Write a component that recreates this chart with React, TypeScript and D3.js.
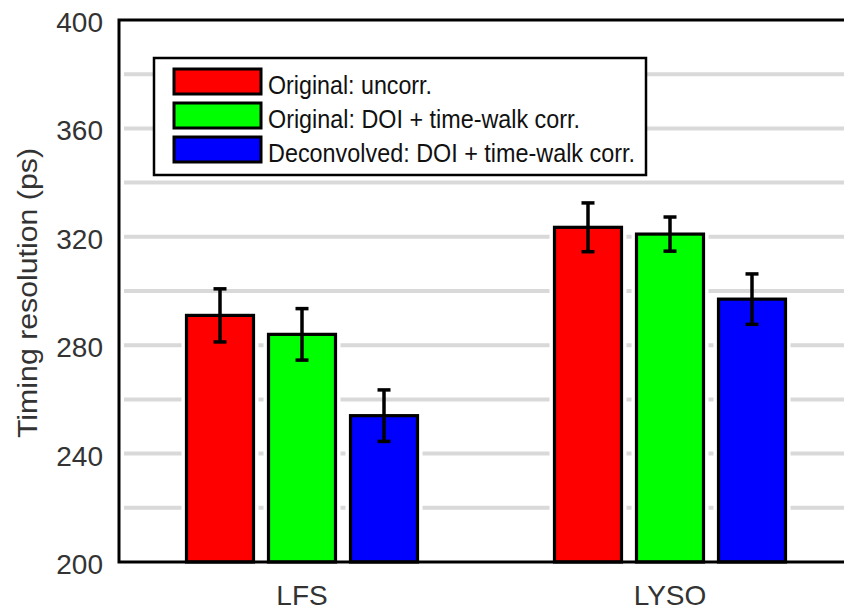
import React from "react";
import * as d3 from "d3";

const categories = ["LFS", "LYSO"];
const seriesNames = [
  "Original: uncorr.",
  "Original: DOI + time-walk corr.",
  "Deconvolved: DOI + time-walk corr.",
];
const seriesColors = ["#ff0000", "#00ff00", "#0000ff"];
// values[series][category]
const origUncorr = [291, 323.5];
const origCorr = [284, 321];
const deconvCorr = [254, 297];
const errOrigUncorr = [9.8, 9];
const errOrigCorr = [9.5, 6.3];
const errDeconvCorr = [9.5, 9.3];
const yTicks = [200, 240, 280, 320, 360, 400];
const gridValues = [220, 240, 260, 280, 300, 320, 340, 360, 380];

const values = [origUncorr, origCorr, deconvCorr];
const errors = [errOrigUncorr, errOrigCorr, errDeconvCorr];
const legendTextWidths = [164, 312, 367];

export default function App() {
  const W = 844;
  const H = 614;
  const left = 119;
  const top = 20;
  const bottom = 562;
  const right = 900;

  const y = d3.scaleLinear().domain([200, 400]).range([bottom, top]);
  const xg = d3.scalePoint<string>().domain(categories).range([302, 670]);
  const xs = d3
    .scaleBand<number>()
    .domain([0, 1, 2])
    .range([-115.5, 115.5])
    .paddingInner(0.183)
    .paddingOuter(0);
  const bw = xs.bandwidth();
  const font = "'Liberation Sans', Arial, Helvetica, sans-serif";

  return (
    <svg
      width={W}
      height={H}
      style={{ position: "absolute", left: 0, top: 0, background: "#fff" }}
      fontFamily={font}
    >
      {gridValues.map((g) => (
        <line
          key={g}
          x1={left + 5}
          x2={right}
          y1={y(g)}
          y2={y(g)}
          stroke="#d9d9d9"
          strokeWidth={4}
        />
      ))}
      {categories.map((c, ci) =>
        values.map((s, si) => {
          const x0 = (xg(c) as number) + (xs(si) as number);
          const v = s[ci];
          const e = errors[si][ci];
          const cx = x0 + bw / 2;
          return (
            <g key={c + si}>
              <rect
                x={x0}
                y={y(v)}
                width={bw}
                height={bottom - y(v)}
                fill="none"
                stroke="#fff"
                strokeWidth={10}
              />
              <rect
                x={x0}
                y={y(v)}
                width={bw}
                height={bottom - y(v)}
                fill={seriesColors[si]}
                stroke="#000"
                strokeWidth={3.2}
              />
              <line x1={cx} x2={cx} y1={y(v + e)} y2={y(v - e)} stroke="#000" strokeWidth={3.5} />
              <line x1={cx - 6.5} x2={cx + 6.5} y1={y(v + e)} y2={y(v + e)} stroke="#000" strokeWidth={3.5} />
              <line x1={cx - 6.5} x2={cx + 6.5} y1={y(v - e)} y2={y(v - e)} stroke="#000" strokeWidth={3.5} />
            </g>
          );
        })
      )}
      <path
        d={`M${right},${top} H${left} V${bottom} H${right}`}
        fill="none"
        stroke="#000"
        strokeWidth={3}
      />
      {yTicks.map((t) => (
        <text
          key={t}
          x={103}
          y={y(t) + 12}
          textAnchor="end"
          fontSize={28}
          fill="#333"
        >
          {t}
        </text>
      ))}
      {categories.map((c) => (
        <text
          key={c}
          x={xg(c) as number}
          y={605}
          textAnchor="middle"
          fontSize={28}
          fill="#333"
        >
          {c}
        </text>
      ))}
      <text
        transform={`translate(37,293) rotate(-90)`}
        textAnchor="middle"
        fontSize={27}
        fill="#333"
        textLength={290}
        lengthAdjust="spacingAndGlyphs"
      >
        Timing resolution (ps)
      </text>
      <g>
        <rect x={154} y={58} width={492} height={117} fill="#fff" stroke="#000" strokeWidth={2.5} />
        {seriesNames.map((n, i) => {
          const ly = 69 + i * 34;
          return (
            <g key={n}>
              <rect x={174} y={ly} width={87} height={25} fill={seriesColors[i]} stroke="#000" strokeWidth={3} />
              <text
                x={268}
                y={ly + 25}
                fontSize={25.5}
                fill="#111"
                textLength={legendTextWidths[i]}
                lengthAdjust="spacingAndGlyphs"
              >
                {n}
              </text>
            </g>
          );
        })}
      </g>
    </svg>
  );
}
